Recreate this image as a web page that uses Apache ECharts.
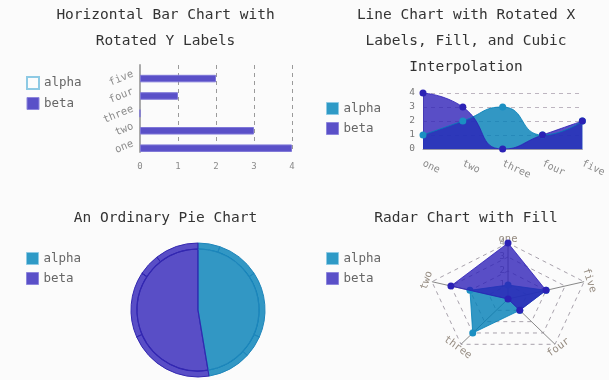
<!DOCTYPE html>
<html><head><meta charset="utf-8">
<script src="https://cdn.jsdelivr.net/npm/echarts@6/dist/echarts.min.js"></script>
<style>html,body{margin:0;padding:0;background:#fbfbfb}#c{width:609px;height:380px}</style>
</head><body><div id="c"></div>
<script>
// ---- data ----
const categories = ['one', 'two', 'three', 'four', 'five'];
const seriesNames = ['alpha', 'beta'];
const alphaValues = [1, 2, 3, 1, 2];
const betaValues = [4, 3, 0, 1, 2];
const barAlphaValues = [null, null, null, null, null];
const barBetaValues = [4, 3, 0, 1, 2];
const valueTicks = [0, 1, 2, 3, 4];
const radarLevels = [1, 2, 3, 4];
const titles = [
  'Horizontal Bar Chart with\nRotated Y Labels',
  'Line Chart with Rotated X\nLabels, Fill, and Cubic\nInterpolation',
  'An Ordinary Pie Chart',
  'Radar Chart with Fill'
];

// ---- style ----
const FONT = 'DejaVu Sans Mono';
const alphaFill = 'rgba(0,126,183,0.80)';
const betaFill = 'rgba(44,30,183,0.78)';
const alphaDot = '#1b8fc2';
const betaDot = '#2b21b5';
const alphaBorder = '#1f86bb';
const betaBorder = '#3328b0';
const gridDash = '#bdb5c0';
const tickColor = '#8a8a8a';

const sum = a => a.reduce((s, v) => s + (v || 0), 0);
const valMax = valueTicks[valueTicks.length - 1];

function legendFor(left, top, hollowAlpha) {
  return {
    orient: 'vertical', left, top, padding: 0, itemWidth: 12, itemHeight: 12, itemGap: 7,
    icon: 'rect', selectedMode: false,
    textStyle: { fontFamily: FONT, fontSize: 12.5, color: '#666' },
    data: [
      { name: seriesNames[0], itemStyle: hollowAlpha
          ? { color: '#fcfcfc', borderColor: '#8ecae4', borderWidth: 2 }
          : { color: '#2f9ac6', borderColor: '#8ecae4', borderWidth: 1 } },
      { name: seriesNames[1], itemStyle: { color: '#5a50c8', borderColor: '#8d86dc', borderWidth: 1 } }
    ]
  };
}

// radar helpers (polar -> cartesian through the grid's value axes)
const N = categories.length;
const angleOf = i => Math.PI / 2 + i * 2 * Math.PI / N;
function radarPoint(api, v, i) {
  const r = v / valMax;
  return api.coord([r * Math.cos(angleOf(i)), r * Math.sin(angleOf(i))]);
}
function radarArea(fill, dot) {
  return function (params, api) {
    const pts = categories.map((c, i) => radarPoint(api, api.value(i), i));
    const children = [{ type: 'polygon', shape: { points: pts }, style: { fill: fill, stroke: fill, lineWidth: 1 } }];
    pts.forEach(p => children.push({ type: 'circle', shape: { cx: p[0], cy: p[1], r: 3.5 }, style: { fill: dot } }));
    return { type: 'group', children };
  };
}

const graphics = [
  [165.5, 2], [466, 2], [165.5, 205], [466, 205]
].map((p, k) => ({
  type: 'text', x: p[0], y: p[1],
  style: { text: titles[k], align: 'center', verticalAlign: 'top', lineHeight: 26,
           fontSize: 14.5, fontFamily: FONT, fill: '#333' }
}));

const option = {
  animation: false,
  backgroundColor: '#fbfbfb',
  textStyle: { fontFamily: FONT },
  graphic: graphics,
  legend: [legendFor(26, 76, true), legendFor(326, 102, false), legendFor(26, 252, false), legendFor(326, 252, false)],
  grid: [
    { left: 140, top: 65, width: 152, height: 87 },
    { left: 423, top: 93, width: 163, height: 56 },
    { left: 428, top: 243, width: 160, height: 112 }
  ],
  xAxis: [
    { gridIndex: 0, type: 'value', min: 0, max: valMax, interval: 1,
      axisLine: { show: false }, axisTick: { show: false },
      splitLine: { show: true, lineStyle: { type: [4, 4], color: '#9a9a9a' } },
      axisLabel: { fontSize: 9, color: tickColor, margin: 10, fontFamily: FONT } },
    { gridIndex: 1, type: 'category', boundaryGap: false, data: categories,
      axisLine: { show: true, lineStyle: { color: '#9a9aa8' } }, axisTick: { show: false },
      splitLine: { show: false },
      axisLabel: { rotate: -25, fontSize: 10, color: tickColor, margin: 14, fontFamily: FONT } },
    { gridIndex: 2, type: 'value', min: -1, max: 1, show: false }
  ],
  yAxis: [
    { gridIndex: 0, type: 'category', data: categories,
      axisLine: { show: true, lineStyle: { color: '#aaa', width: 2 } }, axisTick: { show: false },
      splitLine: { show: false },
      axisLabel: { rotate: 22, fontSize: 10.5, color: tickColor, margin: 7, fontFamily: FONT } },
    { gridIndex: 1, type: 'value', min: 0, max: valMax, interval: 1,
      axisLine: { show: true, lineStyle: { color: '#9a9aa8' } }, axisTick: { show: false },
      splitLine: { show: true, lineStyle: { type: [4, 4], color: gridDash } },
      axisLabel: { fontSize: 9.5, color: '#777', margin: 8, fontFamily: FONT } },
    { gridIndex: 2, type: 'value', min: -1, max: 1, show: false }
  ],
  series: [
    // bar chart
    { name: seriesNames[0], type: 'bar', xAxisIndex: 0, yAxisIndex: 0, data: barAlphaValues,
      barWidth: 7.5, barGap: '30%', itemStyle: { color: '#2f9ac6' } },
    { name: seriesNames[1], type: 'bar', xAxisIndex: 0, yAxisIndex: 0, data: barBetaValues,
      barWidth: 7.5, barGap: '30%', itemStyle: { color: '#5a50c8', borderColor: '#7e76d8', borderWidth: 1 } },
    // line chart
    { name: seriesNames[0], type: 'line', xAxisIndex: 1, yAxisIndex: 1, data: alphaValues, smooth: 0.55,
      symbol: 'circle', symbolSize: 7, itemStyle: { color: alphaDot },
      lineStyle: { color: alphaFill, width: 1 }, areaStyle: { color: alphaFill, opacity: 1 } },
    { name: seriesNames[1], type: 'line', xAxisIndex: 1, yAxisIndex: 1, data: betaValues, smooth: 0.55,
      symbol: 'circle', symbolSize: 7, itemStyle: { color: betaDot },
      lineStyle: { color: betaFill, width: 1 }, areaStyle: { color: betaFill, opacity: 1 } },
    // pie chart: totals inside, single values on the outer ring
    { type: 'pie', center: [198, 310], radius: [0, 61], label: { show: false }, labelLine: { show: false },
      silent: true, startAngle: 90, clockwise: true,
      data: [
        { name: seriesNames[0], value: sum(alphaValues), itemStyle: { color: alphaFill, borderColor: alphaBorder, borderWidth: 1.2 } },
        { name: seriesNames[1], value: sum(betaValues), itemStyle: { color: betaFill, borderColor: betaBorder, borderWidth: 1.2 } }
      ] },
    { type: 'pie', center: [198, 310], radius: [61, 67], label: { show: false }, labelLine: { show: false },
      silent: true, startAngle: 90, clockwise: true, minAngle: 0,
      data: alphaValues.map(v => ({ name: seriesNames[0], value: v, itemStyle: { color: alphaFill, borderColor: alphaBorder, borderWidth: 1 } }))
        .concat(betaValues.map(v => ({ name: seriesNames[1], value: v, itemStyle: { color: betaFill, borderColor: betaBorder, borderWidth: 1 } }))) },
    // radar: levels
    { type: 'custom', xAxisIndex: 2, yAxisIndex: 2, silent: true, z: 1,
      data: radarLevels.map(l => [l, 0]),
      renderItem: function (params, api) {
        const level = api.value(0);
        const pts = categories.map((c, i) => radarPoint(api, level, i));
        return { type: 'group', children: [
          { type: 'polygon', shape: { points: pts }, style: { fill: null, stroke: '#a8a2ac', lineDash: [4, 4], lineWidth: 1 } },
          { type: 'text', x: pts[0][0] - 3, y: pts[0][1], style: { text: String(level), align: 'right', verticalAlign: 'middle', fontSize: 9, fontFamily: FONT, fill: '#999' } }
        ] };
      } },
    // radar: spokes and names
    { type: 'custom', xAxisIndex: 2, yAxisIndex: 2, silent: true, z: 1,
      data: categories.map((c, i) => [i, 0]),
      renderItem: function (params, api) {
        const i = api.value(0);
        const c0 = api.coord([0, 0]);
        const end = radarPoint(api, valMax, i);
        const lp = radarPoint(api, valMax * 1.07, i);
        let deg = angleOf(i) * 180 / Math.PI - 90;
        while (deg > 90) deg -= 180;
        while (deg <= -90) deg += 180;
        return { type: 'group', children: [
          { type: 'line', shape: { x1: c0[0], y1: c0[1], x2: end[0], y2: end[1] }, style: { stroke: '#888', lineWidth: 1 } },
          { type: 'text', x: lp[0], y: lp[1], rotation: deg * Math.PI / 180,
            style: { text: categories[i], align: 'center', verticalAlign: 'middle', fontSize: 10.5, fontFamily: FONT, fill: '#958b80' } }
        ] };
      } },
    // radar: series
    { name: seriesNames[0], type: 'custom', xAxisIndex: 2, yAxisIndex: 2, z: 2, data: [alphaValues],
      itemStyle: { color: alphaFill }, renderItem: radarArea(alphaFill, alphaDot) },
    { name: seriesNames[1], type: 'custom', xAxisIndex: 2, yAxisIndex: 2, z: 3, data: [betaValues],
      itemStyle: { color: betaFill }, renderItem: radarArea(betaFill, betaDot) }
  ]
};
const chart = echarts.init(document.getElementById('c'), null, { renderer: 'canvas' });
chart.setOption(option);
</script>
</body></html>
